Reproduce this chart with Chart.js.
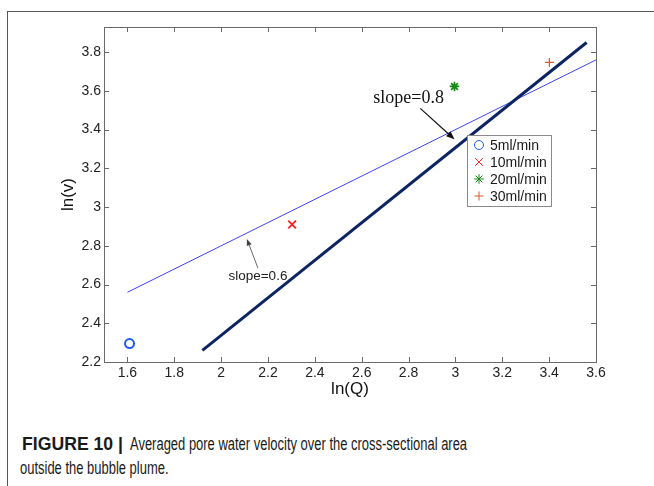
<!doctype html>
<html lang="en">
<head>
<meta charset="utf-8">
<meta name="viewport" content="width=device-width, initial-scale=1">
<title>Figure 10</title>
<script src="https://cdn.jsdelivr.net/npm/chart.js/dist/chart.umd.min.js"></script>
<style>
  html, body { margin: 0; padding: 0; background: #fff; }
  body { width: 654px; height: 486px; position: relative; overflow: hidden; font-family: "Liberation Sans", Arial, sans-serif; }
  .frame { position: absolute; left: 7px; top: 11px; right: -2px; bottom: -2px; border-top: 1px solid #555; border-left: 1px solid #555; }
  .chartBox { position: absolute; left: 0; top: 0; width: 654px; height: 400px; }
  .cap { position: absolute; font-size: 17.5px; line-height: 18px; color: #1a1a1a; white-space: nowrap; transform-origin: left top; }
  .cap.head { font-weight: bold; left: 22px; top: 435px; }
  #body1 { left: 130px; top: 435px; }
  #body2 { left: 20px; top: 459px; }
</style>
</head>
<body>
  <div class="frame"></div>
  <div class="chartBox"><canvas id="myChart"></canvas></div>
  <span class="cap head" id="head">FIGURE 10 |</span>
  <span class="cap" id="body1">Averaged pore water velocity over the cross-sectional area</span>
  <span class="cap" id="body2">outside the bubble plume.</span>

<script>
  // measured points (ln of flow rate vs ln of velocity)
  const flowLabels = ['5ml/min', '10ml/min', '20ml/min', '30ml/min'];
  const lnQ = [1.609, 2.303, 2.996, 3.401];
  const lnV = [2.295, 2.91, 3.623, 3.747];

  // fitted lines
  const fit06X = [1.6, 3.6];
  const fit06Y = [2.56, 3.76];
  const fit08X = [1.92, 3.56];
  const fit08Y = [2.26, 3.85];

  // axes
  const xTicks = [1.6, 1.8, 2, 2.2, 2.4, 2.6, 2.8, 3, 3.2, 3.4, 3.6];
  const yTicks = [2.2, 2.4, 2.6, 2.8, 3, 3.2, 3.4, 3.6, 3.8];
  const xRange = [1.5, 3.6];
  const yRange = [2.2, 3.93];

  const markerStyles = ['circle', 'crossRot', 'star', 'cross'];
  const markerColors = ['#1d5cf0', '#ff1f1f', '#138a13', '#e0562e'];
  const markerRadius = [4.5, 5.5, 4.8, 4.5];
  const markerWidth = [2, 1.8, 1.7, 1.2];

  const fmt = v => String(+(+v).toFixed(2));

  const pointSets = flowLabels.map((lab, i) => ({
    label: lab,
    data: [{ x: lnQ[i], y: lnV[i] }],
    pointStyle: markerStyles[i],
    pointRadius: markerRadius[i],
    borderColor: markerColors[i],
    backgroundColor: 'rgba(0,0,0,0)',
    pointBorderWidth: markerWidth[i],
    showLine: false
  }));

  const lineSets = [
    {
      label: 'slope 0.8',
      data: fit08X.map((v, i) => ({ x: v, y: fit08Y[i] })),
      showLine: true, pointRadius: 0, borderColor: '#0d2462', borderWidth: 3
    },
    {
      label: 'slope 0.6',
      data: fit06X.map((v, i) => ({ x: v, y: fit06Y[i] })),
      showLine: true, pointRadius: 0, borderColor: '#4040ff', borderWidth: 1
    }
  ];

  function arrow(ctx, x1, y1, x2, y2, color, lw, head) {
    const ang = Math.atan2(y2 - y1, x2 - x1);
    ctx.strokeStyle = color; ctx.fillStyle = color; ctx.lineWidth = lw;
    ctx.beginPath(); ctx.moveTo(x1, y1);
    ctx.lineTo(x2 - Math.cos(ang) * head * 0.8, y2 - Math.sin(ang) * head * 0.8);
    ctx.stroke();
    ctx.beginPath();
    ctx.moveTo(x2, y2);
    ctx.lineTo(x2 - head * Math.cos(ang - 0.38), y2 - head * Math.sin(ang - 0.38));
    ctx.lineTo(x2 - head * Math.cos(ang + 0.38), y2 - head * Math.sin(ang + 0.38));
    ctx.closePath(); ctx.fill();
  }

  const decor = {
    id: 'decor',
    afterDraw(chart) {
      const { ctx, chartArea: a, scales: { x, y } } = chart;
      ctx.save();

      // axes box + inward ticks on all sides
      ctx.strokeStyle = '#6a6a6a'; ctx.lineWidth = 1;
      ctx.strokeRect(Math.round(a.left) + 0.5, Math.round(a.top) + 0.5, Math.round(a.width), Math.round(a.height));
      ctx.beginPath();
      xTicks.forEach(v => {
        const px = Math.round(x.getPixelForValue(v)) + 0.5;
        ctx.moveTo(px, a.bottom); ctx.lineTo(px, a.bottom - 5);
        ctx.moveTo(px, a.top); ctx.lineTo(px, a.top + 5);
      });
      yTicks.forEach(v => {
        const py = Math.round(y.getPixelForValue(v)) + 0.5;
        ctx.moveTo(a.left, py); ctx.lineTo(a.left + 5, py);
        ctx.moveTo(a.right, py); ctx.lineTo(a.right - 5, py);
      });
      ctx.stroke();

      // slope=0.8 annotation
      ctx.fillStyle = '#111';
      ctx.font = '18px "Liberation Serif", "Times New Roman", serif';
      ctx.textAlign = 'center'; ctx.textBaseline = 'middle';
      ctx.fillText('slope=0.8', x.getPixelForValue(2.80), y.getPixelForValue(3.56));
      arrow(ctx, x.getPixelForValue(2.85), y.getPixelForValue(3.51),
        x.getPixelForValue(2.996), y.getPixelForValue(3.35), '#111', 1.2, 9);

      // slope=0.6 annotation
      ctx.fillStyle = '#222';
      ctx.font = '13.5px "Liberation Sans", Arial, sans-serif';
      ctx.fillText('slope=0.6', x.getPixelForValue(2.157), y.getPixelForValue(2.645));
      arrow(ctx, x.getPixelForValue(2.157), y.getPixelForValue(2.685),
        x.getPixelForValue(2.11), y.getPixelForValue(2.835), '#444', 0.8, 7);

      // legend box
      const lx = a.left + 363, ly = a.top + 108, lw = 84, lh = 71;
      ctx.fillStyle = '#fff'; ctx.fillRect(lx, ly, lw, lh);
      ctx.strokeStyle = '#8a8a8a'; ctx.lineWidth = 1;
      ctx.strokeRect(lx + 0.5, ly + 0.5, lw, lh);
      ctx.textAlign = 'left';
      ctx.font = '14px "Liberation Sans", Arial, sans-serif';
      pointSets.forEach((ds, i) => {
        const ry = ly + 10 + i * 17;
        ctx.strokeStyle = ds.borderColor; ctx.fillStyle = 'rgba(0,0,0,0)';
        Chart.helpers.drawPoint(ctx, {
          pointStyle: ds.pointStyle, radius: ds.pointRadius, rotation: 0, borderWidth: ds.pointBorderWidth
        }, lx + 12, ry);
        ctx.fillStyle = '#1a1a1a';
        ctx.fillText(ds.label, lx + 23, ry + 1);
      });
      ctx.restore();
    }
  };

  const tickFont = { family: '"Liberation Sans", Arial, sans-serif', size: 14 };
  const titleFont = { family: '"Liberation Sans", Arial, sans-serif', size: 17 };

  new Chart(document.getElementById('myChart'), {
    type: 'scatter',
    data: { datasets: [...lineSets, ...pointSets] },
    options: {
      responsive: true,
      maintainAspectRatio: false,
      animation: false,
      layout: { padding: { left: 0, top: 27, right: 58, bottom: 0 } },
      plugins: { legend: { display: false }, tooltip: { enabled: false } },
      scales: {
        x: {
          type: 'linear', min: xRange[0], max: xRange[1],
          afterBuildTicks: s => { s.ticks = xTicks.map(v => ({ value: v })); },
          afterFit: s => { s.height = 38; },
          grid: { display: false, drawTicks: false },
          border: { display: false },
          ticks: { font: tickFont, color: '#222', padding: 3, maxRotation: 0, autoSkip: false, callback: v => fmt(v) },
          title: { display: true, text: 'ln(Q)', color: '#111', font: titleFont, padding: { top: 0, bottom: 0 } }
        },
        y: {
          type: 'linear', min: yRange[0], max: yRange[1],
          afterBuildTicks: s => { s.ticks = yTicks.map(v => ({ value: v })); },
          afterFit: s => { s.width = 104; },
          grid: { display: false, drawTicks: false },
          border: { display: false },
          ticks: { font: tickFont, color: '#222', padding: 3, autoSkip: false, callback: v => fmt(v) },
          title: { display: true, text: 'ln(v)', color: '#111', font: titleFont, padding: { top: 58, bottom: 0 } }
        }
      }
    },
    plugins: [decor]
  });

  // the original caption uses a bold head and a condensed body face
  const head = document.getElementById('head');
  head.style.transform = 'scaleX(' + (101 / head.getBoundingClientRect().width).toFixed(3) + ')';
  const b1 = document.getElementById('body1');
  const k = 337 / b1.getBoundingClientRect().width;
  b1.style.transform = 'scaleX(' + k.toFixed(3) + ')';
  document.getElementById('body2').style.transform = 'scaleX(' + k.toFixed(3) + ')';
</script>
</body>
</html>
